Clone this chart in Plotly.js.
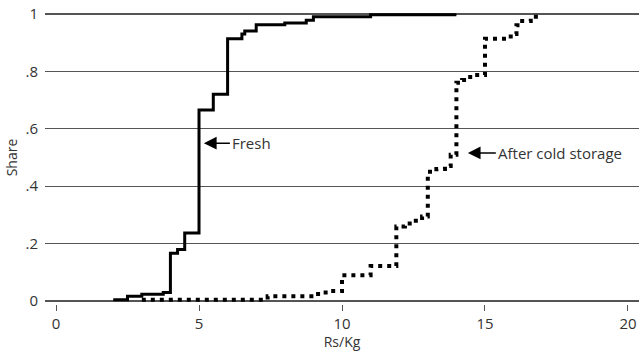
<!DOCTYPE html>
<html>
<head>
<meta charset="utf-8">
<script src="https://cdn.plot.ly/plotly-3.0.1.min.js"></script>
<style>html,body{margin:0;padding:0;background:#fff;}#chart{width:639px;height:351px;}</style>
</head>
<body>
<div id="chart"></div>
<script>
// Fresh: price (Rs/Kg) and cumulative share
const freshPrice = [2.0, 2.5, 3.0, 3.75, 4.0, 4.25, 4.5, 5.0, 5.5, 6.0, 6.5, 6.6, 7.0, 8.0, 8.75, 9.0, 11.0, 14.0];
const freshShare = [0.005, 0.017, 0.024, 0.03, 0.167, 0.18, 0.237, 0.665, 0.72, 0.913, 0.93, 0.94, 0.962, 0.968, 0.978, 0.99, 0.997, 0.997];

// After cold storage
const coldPrice = [3.0, 7.4, 9.0, 9.3, 9.6, 10.0, 11.0, 11.9, 12.2, 12.5, 12.8, 13.0, 13.3, 13.6, 13.8, 14.0, 14.2, 14.4, 14.6, 15.0, 15.9, 16.1, 16.3, 16.6, 16.9];
const coldShare = [0.005, 0.017, 0.025, 0.03, 0.035, 0.09, 0.122, 0.26, 0.27, 0.28, 0.295, 0.45, 0.46, 0.47, 0.51, 0.76, 0.77, 0.78, 0.787, 0.913, 0.93, 0.96, 0.975, 0.99, 0.997];

const yTickVals = [0, 0.2, 0.4, 0.6, 0.8, 1];
const yTickText = ['0', '.2', '.4', '.6', '.8', '1'];
const xTickVals = [0, 5, 10, 15, 20];

const labels = {fresh: 'Fresh', cold: 'After cold storage', x: 'Rs/Kg', y: 'Share'};
const arrowPoints = {fresh: [5.17, 0.55], cold: [14.4, 0.516]};

const font = 'Open Sans, Noto Sans, sans-serif';

const traces = [
  {x: freshPrice, y: freshShare, type: 'scatter', mode: 'lines', line: {shape: 'hv', color: '#000', width: 3}, hoverinfo: 'skip'},
  {x: coldPrice, y: coldShare, type: 'scatter', mode: 'lines', line: {shape: 'hv', color: '#000', width: 4, dash: '4px,5px'}, hoverinfo: 'skip'}
];

const layout = {
  width: 639, height: 351,
  margin: {l: 45, r: 0, t: 11, b: 47},
  paper_bgcolor: '#fff', plot_bgcolor: '#fff',
  showlegend: false,
  font: {family: font, size: 14, color: '#333'},
  xaxis: {
    range: [-0.385, 20.385], tickvals: xTickVals, ticks: 'outside', ticklen: 6, tickwidth: 1, tickcolor: '#555',
    showgrid: false, zeroline: false, showline: false,
    tickfont: {size: 15, color: '#333'},
    title: {text: labels.x, font: {size: 14, color: '#333'}, standoff: 3}
  },
  yaxis: {
    range: [-0.01, 1.01], tickvals: yTickVals, ticktext: yTickText, ticks: '',
    showgrid: true, gridcolor: '#555', gridwidth: 1.3, zeroline: false, showline: false,
    tickfont: {size: 15, color: '#333'}, ticklabelstandoff: 6,
    title: {text: labels.y, font: {size: 14, color: '#333'}, standoff: 4}
  },
  annotations: [
    {x: arrowPoints.fresh[0], y: arrowPoints.fresh[1], xref: 'x', yref: 'y', text: labels.fresh, showarrow: true,
     ax: 26, ay: 0, xanchor: 'left', arrowhead: 2, arrowsize: 1.7, arrowwidth: 1.5, arrowcolor: '#000',
     font: {size: 15, color: '#333'}},
    {x: arrowPoints.cold[0], y: arrowPoints.cold[1], xref: 'x', yref: 'y', text: labels.cold, showarrow: true,
     ax: 28, ay: 0, xanchor: 'left', arrowhead: 2, arrowsize: 1.7, arrowwidth: 1.5, arrowcolor: '#000',
     font: {size: 15, color: '#333'}}
  ]
};

Plotly.newPlot('chart', traces, layout, {staticPlot: true, displayModeBar: false});
</script>
</body>
</html>
